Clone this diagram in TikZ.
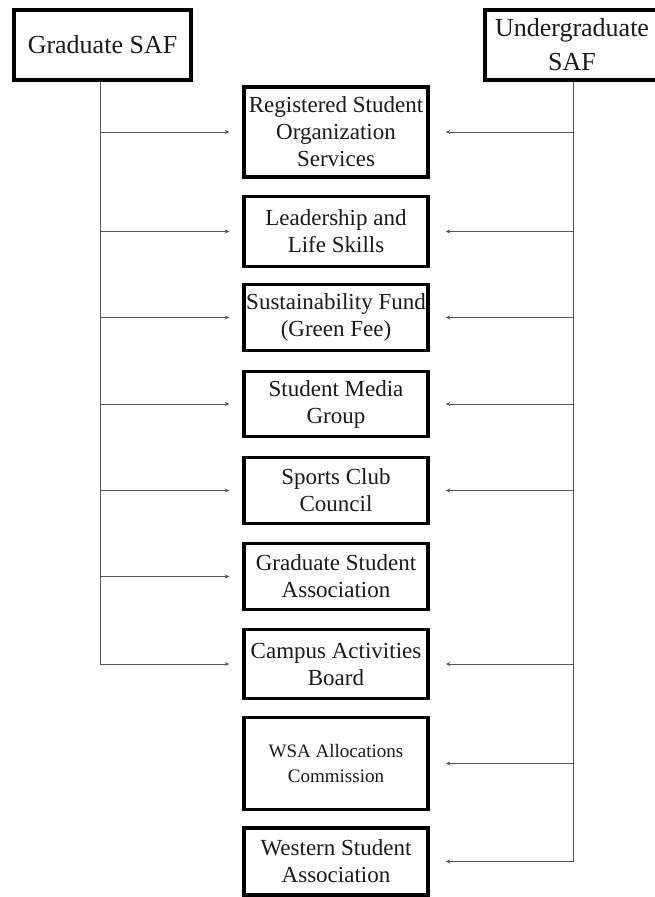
\documentclass[tikz,border=0pt]{standalone}
\usepackage{fontspec}
\setmainfont{Liberation Serif}
\usetikzlibrary{arrows.meta}
\definecolor{conncol}{HTML}{555555}
\definecolor{txtcol}{HTML}{1A1A1A}
\tikzset{
  orgbox/.style={draw=black, line width=3.5pt, minimum width=184pt, align=center, text=txtcol,
    font=\fontsize{23pt}{27pt}\selectfont, inner sep=0pt},
  safbox/.style={draw=black, line width=3.5pt, align=center, text=txtcol, inner sep=0pt,
    font=\fontsize{26pt}{34pt}\selectfont},
  conn/.style={draw=conncol, line width=0.9pt},
  arr/.style={conn, -{Stealth[length=4.5pt,width=4pt]}}
}
\begin{document}
\begin{tikzpicture}[x=1pt,y=-1pt]
\useasboundingbox (0,0) rectangle (655,897);
\clip (0,0) rectangle (655,897);
\fill[white] (0,0) rectangle (655,897);
% top boxes
\node[safbox, minimum width=177pt, minimum height=70pt] (g) at (102.5,45) {Graduate SAF};
\node[safbox, minimum width=174pt, minimum height=70pt] (u) at (572,45) {Undergraduate\\SAF};
% organization boxes
\node[orgbox, minimum height=90pt] (b1) at (336,132) {Registered Student\\Organization\\Services};
\node[orgbox, minimum height=70pt] (b2) at (336,231.5) {Leadership and\\Life Skills};
\node[orgbox, minimum height=66pt] (b3) at (336,317.5) {Sustainability Fund\\(Green Fee)};
\node[orgbox, minimum height=65pt] (b4) at (336,404) {Student Media\\Group};
\node[orgbox, minimum height=66pt] (b5) at (336,490.5) {Sports Club\\Council};
\node[orgbox, minimum height=66pt] (b6) at (336,576.5) {Graduate Student\\Association};
\node[orgbox, minimum height=69pt] (b7) at (336,664) {Campus Activities\\Board};
\node[orgbox, minimum height=92pt, font=\fontsize{19pt}{25pt}\selectfont] (b8) at (336,763.5) {WSA Allocations\\Commission};
\node[orgbox, minimum height=67pt] (b9) at (336,861.5) {Western Student\\Association};
% trunk coordinates
\coordinate (gl) at (100,82);
\coordinate (ul) at (573,82);
% left trunk and arrows
\draw[conn] (gl) -- (gl |- b7.west);
\foreach \b in {b1,b2,b3,b4,b5,b6,b7}{
  \draw[arr] (gl |- \b.west) -- ([xshift=-13pt]\b.west);
}
% right trunk and arrows
\draw[conn] (ul) -- (ul |- b9.east);
\foreach \b in {b1,b2,b3,b4,b5,b7,b8,b9}{
  \draw[arr] (ul |- \b.east) -- ([xshift=16pt]\b.east);
}
\end{tikzpicture}
\end{document}
